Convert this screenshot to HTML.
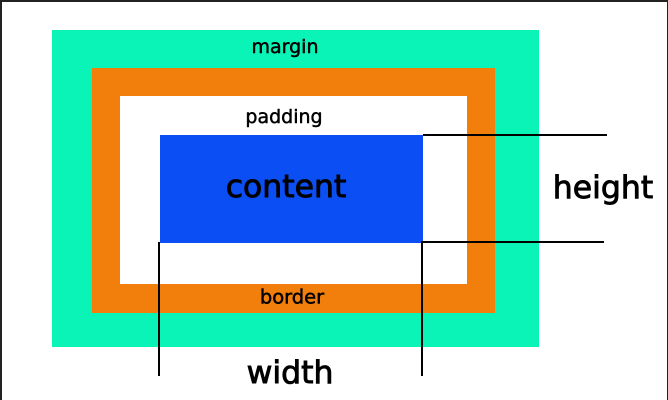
<!DOCTYPE html>
<html><head><meta charset="utf-8"><style>
html,body{margin:0;padding:0;background:#fff}
#c{position:relative;width:668px;height:400px;overflow:hidden;font-family:"DejaVu Sans","Liberation Sans",sans-serif;color:#000}
.b{position:absolute}
.t{position:absolute;transform:translate(-50%,-50%);white-space:nowrap;-webkit-text-stroke:0.5px #000}
.L{-webkit-text-stroke:0.9px #000}
</style></head><body><div id="c">
<div class="b" style="left:0;top:0;height:400px;border-left:2px solid #222;border-top:2px solid #222;border-right:1px solid #222;box-sizing:border-box;width:668px"></div>
<div class="b" style="left:52px;top:30px;width:487px;height:317px;background:#0bf4b8"></div>
<div class="b" style="left:92px;top:68px;width:403px;height:245px;background:#f27e0c"></div>
<div class="b" style="left:120px;top:96px;width:347px;height:188px;background:#fff"></div>
<div class="b" style="left:160px;top:135px;width:263px;height:108px;background:#0b4ef4"></div>
<div class="b" style="left:423px;top:134px;width:184px;height:2px;background:#000"></div>
<div class="b" style="left:421px;top:241px;width:183px;height:2px;background:#000"></div>
<div class="b" style="left:158px;top:242px;width:2px;height:134px;background:#000"></div>
<div class="b" style="left:421px;top:242px;width:2px;height:134px;background:#000"></div>
<div class="t" style="left:285px;top:47px;font-size:19px">margin</div>
<div class="t" style="left:284px;top:117px;font-size:19px">padding</div>
<div class="t L" style="left:286px;top:187px;font-size:31.5px">content</div>
<div class="t L" style="left:603px;top:188px;font-size:31.5px">height</div>
<div class="t" style="left:292px;top:297px;font-size:19.5px">border</div>
<div class="t L" style="left:290px;top:373px;font-size:31.5px">width</div>
</div></body></html>
